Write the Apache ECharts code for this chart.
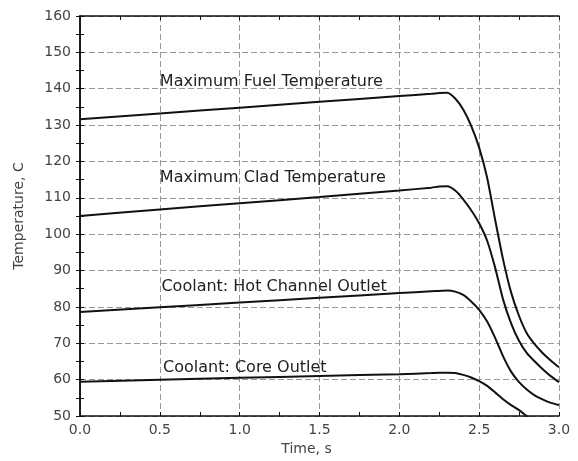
<!DOCTYPE html>
<html><head><meta charset="utf-8">
<script src="https://cdn.jsdelivr.net/npm/echarts@6/dist/echarts.min.js"></script>
<style>html,body{margin:0;padding:0;background:#fff}#c{width:578px;height:461px}</style>
</head><body><div id="c"></div>
<script>
const time = [0, 0.5, 1.0, 1.5, 2.0, 2.2, 2.25, 2.3, 2.35, 2.4, 2.45, 2.5, 2.55, 2.6, 2.65, 2.7, 2.75, 2.8, 2.85, 2.9, 2.95, 3.0];
const fuelTemp = [131.6, 133.2, 134.8, 136.4, 138.0, 138.6, 138.8, 138.9, 137.3, 134.3, 129.8, 123.8, 115.5, 104.0, 93.0, 84.0, 77.5, 72.6, 69.6, 67.2, 65.2, 63.4];
const cladTemp = [105.0, 106.8, 108.5, 110.2, 112.0, 112.8, 113.1, 113.2, 112.0, 109.6, 106.6, 103.0, 98.2, 90.8, 82.0, 75.5, 70.6, 67.2, 64.9, 62.8, 60.9, 59.3];
const hotChannel = [78.6, 79.9, 81.2, 82.5, 83.8, 84.3, 84.4, 84.5, 84.2, 83.3, 81.5, 79.2, 76.0, 71.5, 66.4, 62.2, 59.3, 57.2, 55.6, 54.5, 53.6, 53.0];
const coreOutlet = [59.4, 60.0, 60.5, 61.0, 61.5, 61.8, 61.9, 61.9, 61.8, 61.3, 60.6, 59.6, 58.3, 56.5, 54.6, 53.0, 51.6, 49.9, 48.3, 46.8, 45.5, 44.3];
const curveLabels = ['Maximum Fuel Temperature', 'Maximum Clad Temperature', 'Coolant: Hot Channel Outlet', 'Coolant: Core Outlet'];
const labelAnchors = [[0.5, 141.8], [0.5, 115.4], [0.51, 85.5], [0.52, 63.2]];
const xTicks = ['0.0', '0.5', '1.0', '1.5', '2.0', '2.5', '3.0'];

const chart = echarts.init(document.getElementById('c'), null, {renderer: 'canvas'});
const font = 'DejaVu Sans';
function mkSeries(vals, i) {
  return {
    type: 'line', data: time.map((t, k) => [t, vals[k]]),
    smooth: 0.2, showSymbol: false, symbol: 'none', clip: true,
    lineStyle: {color: '#111', width: 2},
    markPoint: {
      symbol: 'circle', symbolSize: 0, silent: true,
      data: [{coord: labelAnchors[i]}],
      label: {show: true, position: 'right', distance: 0, formatter: curveLabels[i],
        fontFamily: font, fontSize: 16, color: '#222'}
    }
  };
}
const axisCommon = {
  axisLine: {show: true, lineStyle: {color: '#111', width: 1.5}},
  axisTick: {show: true, inside: true, length: 4, lineStyle: {color: '#111'}},
  minorTick: {show: true, splitNumber: 2, length: 4, lineStyle: {color: '#111'}}
};
chart.setOption({
  animation: false,
  grid: {left: 80, right: 19, top: 16, bottom: 45, containLabel: false},
  xAxis: [
    Object.assign({type: 'value', min: 0, max: 3, interval: 0.5, position: 'bottom',
      name: 'Time, s', nameLocation: 'middle', nameGap: 24,
      nameTextStyle: {fontFamily: font, fontSize: 14, color: '#444', padding: [0, 26, 0, 0]},
      axisLabel: {formatter: v => xTicks[Math.round(v / 0.5)], fontFamily: font, fontSize: 14, color: '#444', margin: 7},
      splitLine: {show: true, lineStyle: {color: '#999', type: [6, 3], width: 1}}}, axisCommon),
    Object.assign({type: 'value', min: 0, max: 3, interval: 0.5, position: 'top',
      axisLabel: {show: false}, splitLine: {show: false}}, axisCommon)
  ],
  yAxis: [
    Object.assign({type: 'value', min: 50, max: 160, interval: 10, position: 'left',
      name: 'Temperature, C', nameLocation: 'middle', nameGap: 54, nameRotate: 90,
      nameTextStyle: {fontFamily: font, fontSize: 14, color: '#444'},
      axisLabel: {fontFamily: font, fontSize: 14, color: '#444', margin: 9},
      splitLine: {show: true, lineStyle: {color: '#999', type: [6, 3], width: 1}}}, axisCommon),
    Object.assign({type: 'value', min: 50, max: 160, interval: 10, position: 'right',
      axisLabel: {show: false}, splitLine: {show: false}}, axisCommon)
  ],
  series: [mkSeries(fuelTemp, 0), mkSeries(cladTemp, 1), mkSeries(hotChannel, 2), mkSeries(coreOutlet, 3)]
});
</script></body></html>
